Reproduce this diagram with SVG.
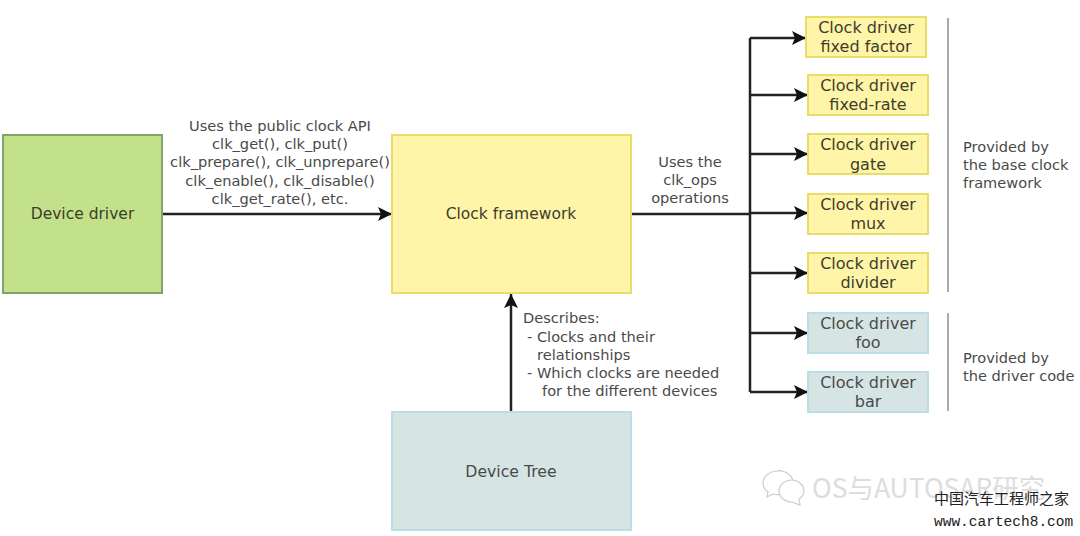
<svg xmlns="http://www.w3.org/2000/svg" width="1080" height="536" viewBox="0 0 1080 536">
<defs>
<marker id="arrow" markerUnits="userSpaceOnUse" markerWidth="16" markerHeight="16" refX="14" refY="8" orient="auto"><path d="M0 1L14 8L0 15L3 8Z" fill="#111"/></marker>
</defs>
<style>
text{font-family:"DejaVu Sans","Liberation Sans",sans-serif;font-size:14.6px;fill:#4a4a4a;text-anchor:middle}
.n{fill:#3d3d2c;font-size:15.5px}
.s{font-size:16px}
.d{font-size:15.7px}
.l{text-anchor:start}
.y{fill:#fff5a8;stroke:#e9dc6a;stroke-width:2}
.b{fill:#d6e4e4;stroke:#bbdde8;stroke-width:2}
.g{fill:#c3e18a;stroke:#82a468;stroke-width:2}
.c{fill:none;stroke:#222;stroke-width:2.5}
.a{marker-end:url(#arrow)}
.bar{stroke:#aaa;stroke-width:2}
.w{font-family:"Noto Sans CJK SC",sans-serif;fill:#ddd;font-size:26.500px;text-anchor:start}
.wm{font-family:"Noto Sans CJK SC",sans-serif;fill:#222;font-size:15px;text-anchor:start}
.wu{font-family:"Liberation Mono",monospace;fill:#222;font-size:14.500px;text-anchor:start}
</style>
<g id="connectors">
<path class="c a" d="M162 214H392"/>
<path class="c a" d="M511 412V294"/>
<path class="c" d="M631 214H750M750 38V392"/>
<path class="c a" d="M750 38H806"/>
<path class="c a" d="M750 95H808"/>
<path class="c a" d="M750 154H808"/>
<path class="c a" d="M750 213H808"/>
<path class="c a" d="M750 273H808"/>
<path class="c a" d="M750 333H808"/>
<path class="c a" d="M750 392H808"/>
</g>
<g id="device-driver"><rect class="g" x="3" y="135" width="159" height="158"/><text class="n" x="82.500" y="219">Device driver</text></g>
<g id="clock-framework"><rect class="y" x="392" y="135" width="239" height="158"/><text class="n" x="511" y="219">Clock framework</text></g>
<g id="device-tree"><rect class="b" x="392" y="412" width="239" height="118"/><text class="d" x="511" y="477">Device Tree</text></g>
<g id="fixed-factor"><rect class="y" x="806" y="17" width="120" height="40"/><text class="n s" x="866" y="33">Clock driver</text><text class="n s" x="866" y="52">fixed factor</text></g>
<g id="fixed-rate"><rect class="y" x="808" y="75" width="120" height="40"/><text class="n s" x="868" y="91">Clock driver</text><text class="n s" x="868" y="110">fixed-rate</text></g>
<g id="gate"><rect class="y" x="808" y="134" width="120" height="40"/><text class="n s" x="868" y="150">Clock driver</text><text class="n s" x="868" y="170">gate</text></g>
<g id="mux"><rect class="y" x="808" y="194" width="120" height="40"/><text class="n s" x="868" y="210">Clock driver</text><text class="n s" x="868" y="229">mux</text></g>
<g id="divider"><rect class="y" x="808" y="253" width="120" height="40"/><text class="n s" x="868" y="269">Clock driver</text><text class="n s" x="868" y="288">divider</text></g>
<g id="foo"><rect class="b" x="808" y="313" width="120" height="40"/><text class="s" x="868" y="329">Clock driver</text><text class="s" x="868" y="348">foo</text></g>
<g id="bar"><rect class="b" x="808" y="372" width="120" height="40"/><text class="s" x="868" y="388">Clock driver</text><text class="s" x="868" y="407">bar</text></g>
<g id="labels">
<text x="280" y="131">Uses the public clock API</text>
<text x="280" y="149">clk_get(), clk_put()</text>
<text x="280" y="167">clk_prepare(), clk_unprepare()</text>
<text x="280" y="186">clk_enable(), clk_disable()</text>
<text x="280" y="204">clk_get_rate(), etc.</text>
<text x="690" y="167">Uses the</text>
<text x="690" y="185">clk_ops</text>
<text x="690" y="203">operations</text>
<text class="l" x="523" y="323">Describes:</text>
<text class="l" x="527" y="342">- Clocks and their</text>
<text class="l" x="537" y="360">relationships</text>
<text class="l" x="527" y="378">- Which clocks are needed</text>
<text class="l" x="542" y="396">for the different devices</text>
<text class="l" x="963" y="152">Provided by</text>
<text class="l" x="963" y="170">the base clock</text>
<text class="l" x="963" y="188">framework</text>
<text class="l" x="963" y="363">Provided by</text>
<text class="l" x="963" y="381">the driver code</text>
<path class="bar" d="M948 18V292M948 313V411"/>
</g>
<g id="watermark">
<g fill="#fff" stroke="#ccc" stroke-width="1.2"><path d="M778 471c-9 0-15 6-15 12 0 4 2 7 5 9l-1 5 6-3c2 .5 3 .6 5 .6 8 0 15-5 15-12s-7-12-15-12Z"/><path d="M792 480c-7 0-13 5-13 11s6 11 13 11l8 3-1-6c3-2 5-5 5-8 0-6-6-11-12-11Z"/></g>
<text class="w" x="812" y="498">OS与AUTOSAR研究</text>
<text class="wm" x="934" y="504">中国汽车工程师之家</text>
<text class="wu" x="934" y="526">www.cartech8.com</text>
</g>
</svg>
